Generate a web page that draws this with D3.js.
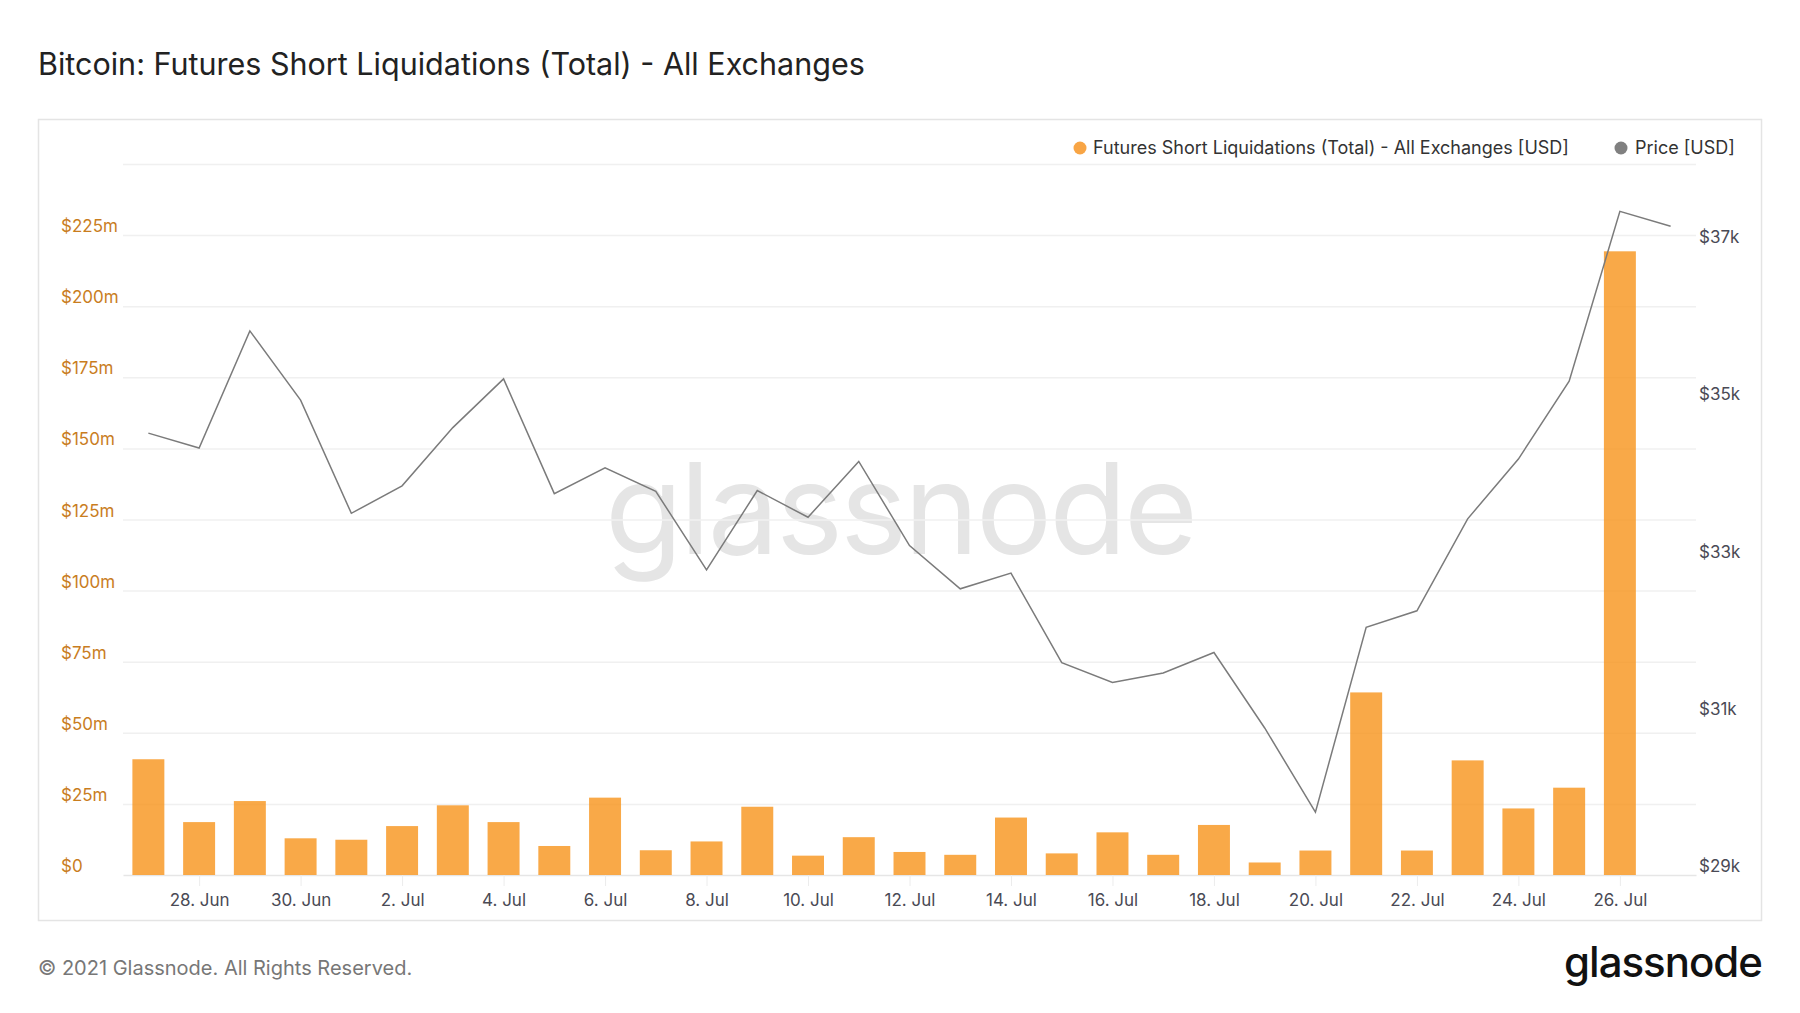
<!doctype html>
<html>
  <head>
    <meta charset="utf-8">
    <script src="https://cdn.jsdelivr.net/npm/d3@7/dist/d3.min.js"></script>
    <style>
      body { margin: 0; background: #fff; font-family: Inter, "Noto Sans", sans-serif; }
      svg { display: block; }
      .grid line { stroke: #f0f0f0; stroke-width: 1.5px; }
      .grid path { display: none; }
      .xaxis path { stroke: #e6e6e6; stroke-width: 1.5px; }
      .xaxis line { stroke: #ececec; }
    </style>
  </head>
  <body>
    <svg id="chart" width="1800" height="1013"></svg>
    <script>
      // daily values, 27 Jun 2021 onwards
      const startDay = "2021-06-27";
      const shortLiqM = [
        40.7, 18.6, 26.0, 12.9, 12.4, 17.2, 24.5, 18.6, 10.2, 27.2,
        8.7, 11.8, 24.0, 6.8, 13.3, 8.1, 7.1, 20.2, 7.6, 15.0,
        7.1, 17.6, 4.4, 8.6, 64.2, 8.6, 40.3, 23.4, 30.7, 219.3
      ];
      const priceUsd = [
        34620, 34430, 35920, 35040, 33600, 33950, 34690, 35310, 33850, 34180,
        33880, 32880, 33890, 33550, 34260, 33190, 32640, 32840, 31700, 31450,
        31570, 31830, 30870, 29800, 32150, 32360, 33530, 34290, 35280, 37440,
        37250
      ];
      const xTickDays = ["2021-06-28", "2021-06-30", "2021-07-02", "2021-07-04", "2021-07-06",
        "2021-07-08", "2021-07-10", "2021-07-12", "2021-07-14", "2021-07-16", "2021-07-18",
        "2021-07-20", "2021-07-22", "2021-07-24", "2021-07-26"];
      const leftTicksM = [0, 25, 50, 75, 100, 125, 150, 175, 200, 225, 250];
      const rightTicks = [29000, 31000, 33000, 35000, 37000];

      const parse = d3.utcParse("%Y-%m-%d");
      const day0 = parse(startDay);
      const dayAt = i => d3.utcDay.offset(day0, i);

      const svg = d3.select("#chart");
      const plotL = 123, plotR = 1696, plotT = 164, plotB = 875;

      const x = d3.scaleUtc()
        .domain([d3.utcHour.offset(day0, -12), d3.utcHour.offset(dayAt(30), 12)])
        .range([plotL, plotR]);
      const yLiq = d3.scaleLinear().domain([0, 250]).range([plotB, plotT]);
      const yPrice = d3.scaleLinear().domain([29000, 37000]).range([plotB, 246]);

      // title
      svg.append("text")
        .attr("x", 38).attr("y", 75)
        .attr("font-size", 30.5).attr("font-weight", 400).attr("fill", "#222")
        .text("Bitcoin: Futures Short Liquidations (Total) - All Exchanges");

      // frame
      svg.append("rect")
        .attr("x", 38.5).attr("y", 119.5).attr("width", 1723).attr("height", 801)
        .attr("fill", "none").attr("stroke", "#e4e4e4").attr("stroke-width", 1.5);

      // watermark
      svg.append("text")
        .attr("x", 900).attr("y", 554)
        .attr("text-anchor", "middle")
        .attr("font-size", 127).attr("font-weight", 400)
        .attr("letter-spacing", -3)
        .attr("fill", "#e5e5e5")
        .text("glassnode");

      // grid + left axis
      const gridG = svg.append("g")
        .attr("class", "grid")
        .attr("transform", `translate(${plotL},0)`)
        .call(d3.axisLeft(yLiq).tickValues(leftTicksM).tickSize(-(plotR - plotL)).tickFormat(""));
      gridG.selectAll("line").filter(d => d === 0).remove();

      svg.append("g")
        .selectAll("text")
        .data(leftTicksM.filter(d => d < 250))
        .join("text")
        .attr("x", 61)
        .attr("y", d => yLiq(d) - 3)
        .attr("font-size", 17)
        .attr("fill", "#c97d1e")
        .text(d => d === 0 ? "$0" : "$" + d + "m");

      // right axis
      svg.append("g")
        .selectAll("text")
        .data(rightTicks)
        .join("text")
        .attr("x", 1699)
        .attr("y", d => yPrice(d) - 3)
        .attr("font-size", 17)
        .attr("fill", "#4a4a55")
        .text(d => "$" + (d / 1000) + "k");

      // x axis
      const xAxis = svg.append("g")
        .attr("class", "xaxis")
        .attr("transform", `translate(0,${plotB})`)
        .call(d3.axisBottom(x)
          .tickValues(xTickDays.map(parse))
          .tickSize(11)
          .tickSizeOuter(0)
          .tickPadding(8)
          .tickFormat(d3.utcFormat("%-d. %b")));
      xAxis.selectAll("text")
        .attr("font-size", 17)
        .attr("font-family", "Inter, sans-serif")
        .attr("fill", "#4a4a55");

      // bars
      const dayW = x(dayAt(1)) - x(dayAt(0));
      const barW = dayW * 0.63;
      svg.append("g")
        .selectAll("rect")
        .data(shortLiqM)
        .join("rect")
        .attr("x", (d, i) => x(dayAt(i)) - barW / 2)
        .attr("y", d => yLiq(d))
        .attr("width", barW)
        .attr("height", d => plotB - yLiq(d))
        .attr("fill", "#f7931a")
        .attr("fill-opacity", 0.8);

      // price line
      const line = d3.line()
        .x((d, i) => x(dayAt(i)))
        .y(d => yPrice(d));
      svg.append("path")
        .datum(priceUsd)
        .attr("d", line)
        .attr("fill", "none")
        .attr("stroke", "#7b7b7b")
        .attr("stroke-width", 1.5);

      // legend
      const legend = svg.append("g").attr("font-size", 18).attr("fill", "#333");
      legend.append("circle").attr("cx", 1080).attr("cy", 148).attr("r", 6.5).attr("fill", "#f8a545");
      legend.append("text").attr("x", 1093).attr("y", 154)
        .text("Futures Short Liquidations (Total) - All Exchanges [USD]");
      legend.append("circle").attr("cx", 1621).attr("cy", 148).attr("r", 6.5).attr("fill", "#808080");
      legend.append("text").attr("x", 1635).attr("y", 154).text("Price [USD]");

      // footer
      svg.append("text")
        .attr("x", 38).attr("y", 975)
        .attr("font-size", 20).attr("fill", "#777")
        .text("© 2021 Glassnode. All Rights Reserved.");
      svg.append("text")
        .attr("x", 1762).attr("y", 977)
        .attr("text-anchor", "end")
        .attr("font-size", 42).attr("font-weight", 500)
        .attr("letter-spacing", -1)
        .attr("fill", "#111")
        .text("glassnode");
    </script>
  </body>
</html>
